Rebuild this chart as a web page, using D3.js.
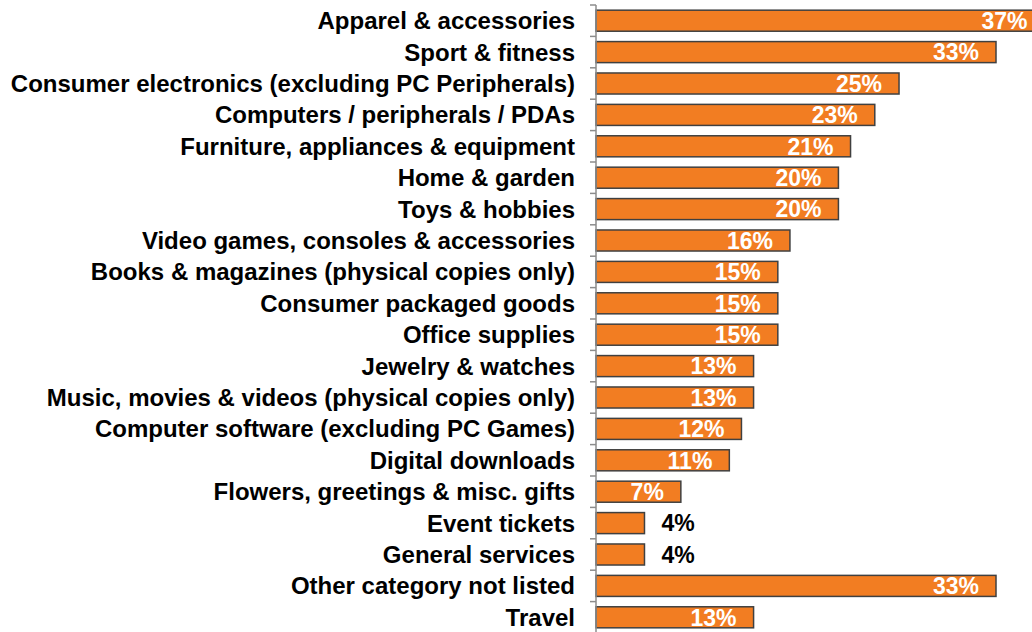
<!DOCTYPE html>
<html>
<head>
<meta charset="utf-8">
<script src="https://cdn.jsdelivr.net/npm/d3@7"></script>
<style>
  html, body { margin: 0; padding: 0; background: #fff; overflow: hidden; }
  svg { display: block; }
  text { font-family: "Liberation Sans", Arial, sans-serif; font-weight: bold; }
</style>
</head>
<body>
<svg id="chart" width="1032" height="632"></svg>
<script>
// Share of respondents by product category (%)
const categories = [
  "Apparel & accessories",
  "Sport & fitness",
  "Consumer electronics (excluding PC Peripherals)",
  "Computers / peripherals / PDAs",
  "Furniture, appliances & equipment",
  "Home & garden",
  "Toys & hobbies",
  "Video games, consoles & accessories",
  "Books & magazines (physical copies only)",
  "Consumer packaged goods",
  "Office supplies",
  "Jewelry & watches",
  "Music, movies & videos (physical copies only)",
  "Computer software (excluding PC Games)",
  "Digital downloads",
  "Flowers, greetings & misc. gifts",
  "Event tickets",
  "General services",
  "Other category not listed",
  "Travel"
];
const values = [37, 33, 25, 23, 21, 20, 20, 16, 15, 15, 15, 13, 13, 12, 11, 7, 4, 4, 33, 13];

const svg = d3.select("#chart");
const axisX = 596;

const x = d3.scaleLinear().domain([0, 33]).range([axisX, 996]);
const y = d3.scaleBand()
  .domain(categories)
  .range([5, 633])
  .paddingInner(0.33)
  .paddingOuter(0.165);

const step = y.step();

// Bars
svg.append("g").selectAll("rect")
  .data(categories)
  .join("rect")
  .attr("x", x(0))
  .attr("y", d => y(d))
  .attr("width", (d, i) => x(values[i]) - x(0))
  .attr("height", y.bandwidth())
  .attr("fill", "#F27D22")
  .attr("stroke", "#404040")
  .attr("stroke-width", 1.5);

// Vertical axis line with tick marks at category boundaries
const axis = svg.append("g");
axis.append("line")
  .attr("x1", axisX).attr("x2", axisX)
  .attr("y1", 5).attr("y2", 640)
  .attr("stroke", "#8c8c8c").attr("stroke-width", 1.5);
axis.selectAll("line.tick")
  .data(d3.range(categories.length + 1))
  .join("line")
  .attr("class", "tick")
  .attr("x1", axisX - 6).attr("x2", axisX)
  .attr("y1", i => 5 + i * step).attr("y2", i => 5 + i * step)
  .attr("stroke", "#8c8c8c").attr("stroke-width", 1.5);

// Category labels
svg.append("g").selectAll("text")
  .data(categories)
  .join("text")
  .attr("x", 575)
  .attr("y", d => y(d) + y.bandwidth() / 2)
  .attr("dy", "0.35em")
  .attr("text-anchor", "end")
  .attr("font-size", 24)
  .attr("fill", "#000")
  .text(d => d);

// Value labels: inside the bar in white, outside in black for short bars
svg.append("g").selectAll("text")
  .data(categories)
  .join("text")
  .attr("x", (d, i) => values[i] <= 5 ? x(values[i]) + 17 : x(values[i]) - 17)
  .attr("y", d => y(d) + y.bandwidth() / 2)
  .attr("dy", "0.36em")
  .attr("text-anchor", (d, i) => values[i] <= 5 ? "start" : "end")
  .attr("font-size", 23)
  .attr("fill", (d, i) => values[i] <= 5 ? "#000" : "#fff")
  .text((d, i) => values[i] + "%");
</script>
</body>
</html>
